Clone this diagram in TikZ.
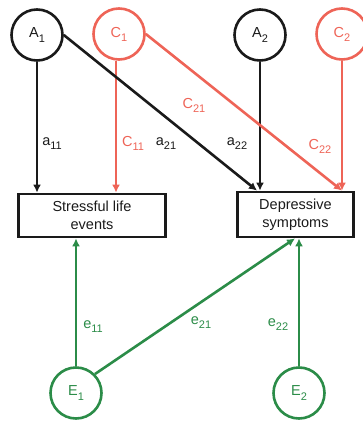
\documentclass[tikz,border=0pt]{standalone}
\usepackage{fontspec}
\setmainfont{Liberation Sans}
\usetikzlibrary{arrows.meta}
\definecolor{cred}{HTML}{EE6457}
\definecolor{cgreen}{HTML}{2B8C48}
\definecolor{cblack}{HTML}{1A1A1A}
\newcommand\mysub[1]{\raisebox{-0.28em}{\fontsize{11}{11}\selectfont#1}}
\begin{document}
\begin{tikzpicture}[x=1pt,y=-1pt,font=\fontsize{14.5}{18}\selectfont,
  lat/.style={circle,draw,line width=2.6pt,minimum size=51pt,inner sep=0pt},
  obs/.style={rectangle,draw=cblack,text=cblack,line width=2.8pt,inner sep=0pt,align=center},
  arr/.style={line width=2.6pt,-{Latex[length=8pt,width=8pt]}},
  lab/.style={inner sep=0pt}]
\useasboundingbox (0,0) rectangle (362,422);
% latent nodes
\node[lat,draw=cblack,text=cblack] (A1) at (37,35) {A\mysub{1}};
\node[lat,draw=cred,text=cred] (C1) at (119,34) {C\mysub{1}};
\node[lat,draw=cblack,text=cblack] (A2) at (260,35) {A\mysub{2}};
\node[lat,draw=cred,text=cred] (C2) at (342,34) {C\mysub{2}};
\node[lat,draw=cgreen,text=cgreen] (E1) at (76,393) {E\mysub{1}};
\node[lat,draw=cgreen,text=cgreen] (E2) at (299,393) {E\mysub{2}};
% observed
\node[obs,minimum width=147pt,minimum height=43pt] (S) at (92,215.5) {Stressful life\\events};
\node[obs,minimum width=116pt,minimum height=45pt] (D) at (295.5,214.5) {Depressive\\symptoms};
% paths
\draw[arr,cblack] (A1.south) -- (A1.south |- S.north);
\draw[arr,cred] ([xshift=-3pt]C1.south) -- ([xshift=-3pt]C1.south |- S.north);
\draw[arr,cblack] (A1.east) -- ([xshift=-3pt]A2.south |- D.north);
\draw[arr,cblack] (A2.south) -- (A2.south |- D.north);
\draw[arr,cred] (C1.east) -- (C2.south |- D.north);
\draw[arr,cred] (C2.south) -- (C2.south |- D.north);
\draw[arr,cgreen] (E1.north) -- (E1.north |- S.south);
\draw[arr,cgreen] (E1.north east) -- ([xshift=-4pt]E2.north |- D.south);
\draw[arr,cgreen] (E2.north) -- (E2.north |- D.south);
% labels
\node[lab,text=cblack] (la11) at (52,144) {a\mysub{11}};
\node[lab,text=cred] (lc11) at (133,143) {C\mysub{11}};
\node[lab,text=cblack] (la21) at (166,144) {a\mysub{21}};
\node[lab,text=cblack] (la22) at (237,144) {a\mysub{22}};
\node[lab,text=cred] (lc22) at (320,146) {C\mysub{22}};
\node[lab,text=cred] (lc21) at (194,105) {C\mysub{21}};
\node[lab,text=cgreen] (le11) at (93,327) {e\mysub{11}};
\node[lab,text=cgreen] (le21) at (201,323) {e\mysub{21}};
\node[lab,text=cgreen] (le22) at (278,325) {e\mysub{22}};
\end{tikzpicture}
\end{document}
